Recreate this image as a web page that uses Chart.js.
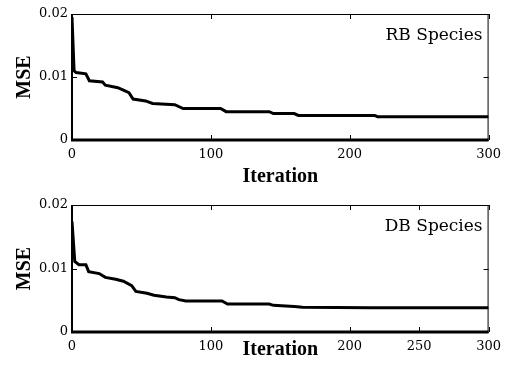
<!DOCTYPE html>
<html>
<head>
<meta charset="utf-8">
<script src="https://cdn.jsdelivr.net/npm/chart.js@4/dist/chart.umd.min.js"></script>
<style>
  body { margin: 0; background: #fff; }
  canvas { display: block; }
</style>
</head>
<body>
<canvas id="rb" width="508" height="189"></canvas>
<canvas id="db" width="508" height="189"></canvas>
<script>
// RB species convergence
const rbIter = [0, 1.5, 3, 10, 12.5, 22, 24, 33, 37, 41, 44, 53, 58, 74, 80, 107, 111, 142, 145, 160, 163, 218, 220, 300]
const rbMse = [0.0195, 0.0110, 0.0107, 0.0105, 0.0094, 0.0092, 0.0087, 0.0083, 0.0079, 0.0075, 0.0065, 0.0062, 0.0058, 0.0056, 0.0050, 0.0050, 0.0045, 0.0045, 0.0042, 0.0042, 0.0039, 0.0039, 0.0037, 0.0037]

// DB species convergence
const dbIter = [0, 2, 5, 10, 12, 19.6, 24, 31.5, 37, 43, 46, 54, 59, 68, 74, 77, 82, 108, 112, 142, 145, 160, 166, 215, 300]
const dbMse = [0.0174, 0.0111, 0.0106, 0.0106, 0.0095, 0.0092, 0.0086, 0.0083, 0.0080, 0.0073, 0.0064, 0.0061, 0.0058, 0.0055, 0.0054, 0.0051, 0.0049, 0.0049, 0.0044, 0.0044, 0.0042, 0.0040, 0.0039, 0.0038, 0.0038]

const rbXTicks = [0, 100, 200, 300]
const dbXTicks = [0, 100, 200, 250, 300]
const yTicks = [0, 0.01, 0.02]

const tickFont = { family: "DejaVu Serif", size: 13 }
const titleFont = { family: "Liberation Serif", size: 20, weight: "bold", lineHeight: 1 }

// box, inward tick marks and the species label
const framePlugin = {
    id: "frame",
    afterDraw(chart, args, opts) {
        const ctx = chart.ctx
        const a = chart.chartArea
        const xs = chart.scales.x
        const ys = chart.scales.y
        ctx.save()
        ctx.strokeStyle = "#000"
        ctx.lineWidth = 1
        ctx.beginPath()
        ctx.moveTo(a.left, a.top + 0.5)
        ctx.lineTo(a.right, a.top + 0.5)
        ctx.moveTo(a.right - 0.5, a.top)
        ctx.lineTo(a.right - 0.5, a.bottom)
        for (const t of xs.ticks) {
            const px = Math.round(xs.getPixelForValue(t.value)) + 0.5
            ctx.moveTo(px, a.top)
            ctx.lineTo(px, a.top + 5)
            ctx.moveTo(px, a.bottom)
            ctx.lineTo(px, a.bottom - 5)
        }
        for (const t of ys.ticks) {
            const py = Math.round(ys.getPixelForValue(t.value)) + 0.5
            ctx.moveTo(a.left, py)
            ctx.lineTo(a.left + 5, py)
            ctx.moveTo(a.right, py)
            ctx.lineTo(a.right - 5, py)
        }
        ctx.stroke()

        ctx.lineWidth = 3
        ctx.beginPath()
        ctx.moveTo(a.left - 1, a.bottom)
        ctx.lineTo(a.right, a.bottom)
        ctx.stroke()
        ctx.lineWidth = 2
        ctx.beginPath()
        ctx.moveTo(a.left, a.top)
        ctx.lineTo(a.left, a.bottom)
        ctx.stroke()

        ctx.fillStyle = "#000"
        ctx.font = "17px 'DejaVu Serif'"
        ctx.textAlign = "right"
        ctx.textBaseline = "alphabetic"
        ctx.fillText(opts.text, a.right - 6, a.top + 26)
        ctx.restore()
    }
}

function makeChart(id, iters, mse, xTicks, label, padTop, xHeight, titlePad) {
    const points = iters.map((x, i) => ({ x: x, y: mse[i] }))
    return new Chart(document.getElementById(id), {
        type: "line",
        data: {
            datasets: [{
                data: points,
                borderColor: "#000",
                borderWidth: 3,
                pointRadius: 0,
                tension: 0,
                fill: false
            }]
        },
        options: {
            responsive: false,
            animation: false,
            devicePixelRatio: 1,
            layout: { padding: { top: padTop, right: 17, left: 0, bottom: 0 } },
            plugins: {
                legend: { display: false },
                tooltip: { enabled: false },
                frame: { text: label }
            },
            scales: {
                x: {
                    type: "linear",
                    min: 0,
                    max: 300,
                    afterBuildTicks: s => { s.ticks = xTicks.map(v => ({ value: v })) },
                    afterFit: s => { s.height = xHeight },
                    grid: { display: false, drawTicks: false },
                    border: { display: false },
                    ticks: { font: tickFont, color: "#000", padding: 7, maxRotation: 0 },
                    title: { display: true, text: "Iteration", font: titleFont, color: "#000", padding: { top: 0, bottom: titlePad } }
                },
                y: {
                    min: 0,
                    max: 0.02,
                    afterBuildTicks: s => { s.ticks = yTicks.map(v => ({ value: v })) },
                    afterFit: s => { s.width = 72 },
                    grid: { display: false, drawTicks: false },
                    border: { display: false },
                    ticks: { font: tickFont, color: "#000", padding: 4, callback: v => v === 0 ? "0" : v.toFixed(2) },
                    title: { display: true, text: "MSE", font: titleFont, color: "#000", padding: { top: 15, bottom: 0 } }
                }
            }
        },
        plugins: [framePlugin]
    })
}

makeChart("rb", rbIter, rbMse, rbXTicks, "RB Species", 14, 49, 2)
makeChart("db", dbIter, dbMse, dbXTicks, "DB Species", 16, 46, 18)
</script>
</body>
</html>
